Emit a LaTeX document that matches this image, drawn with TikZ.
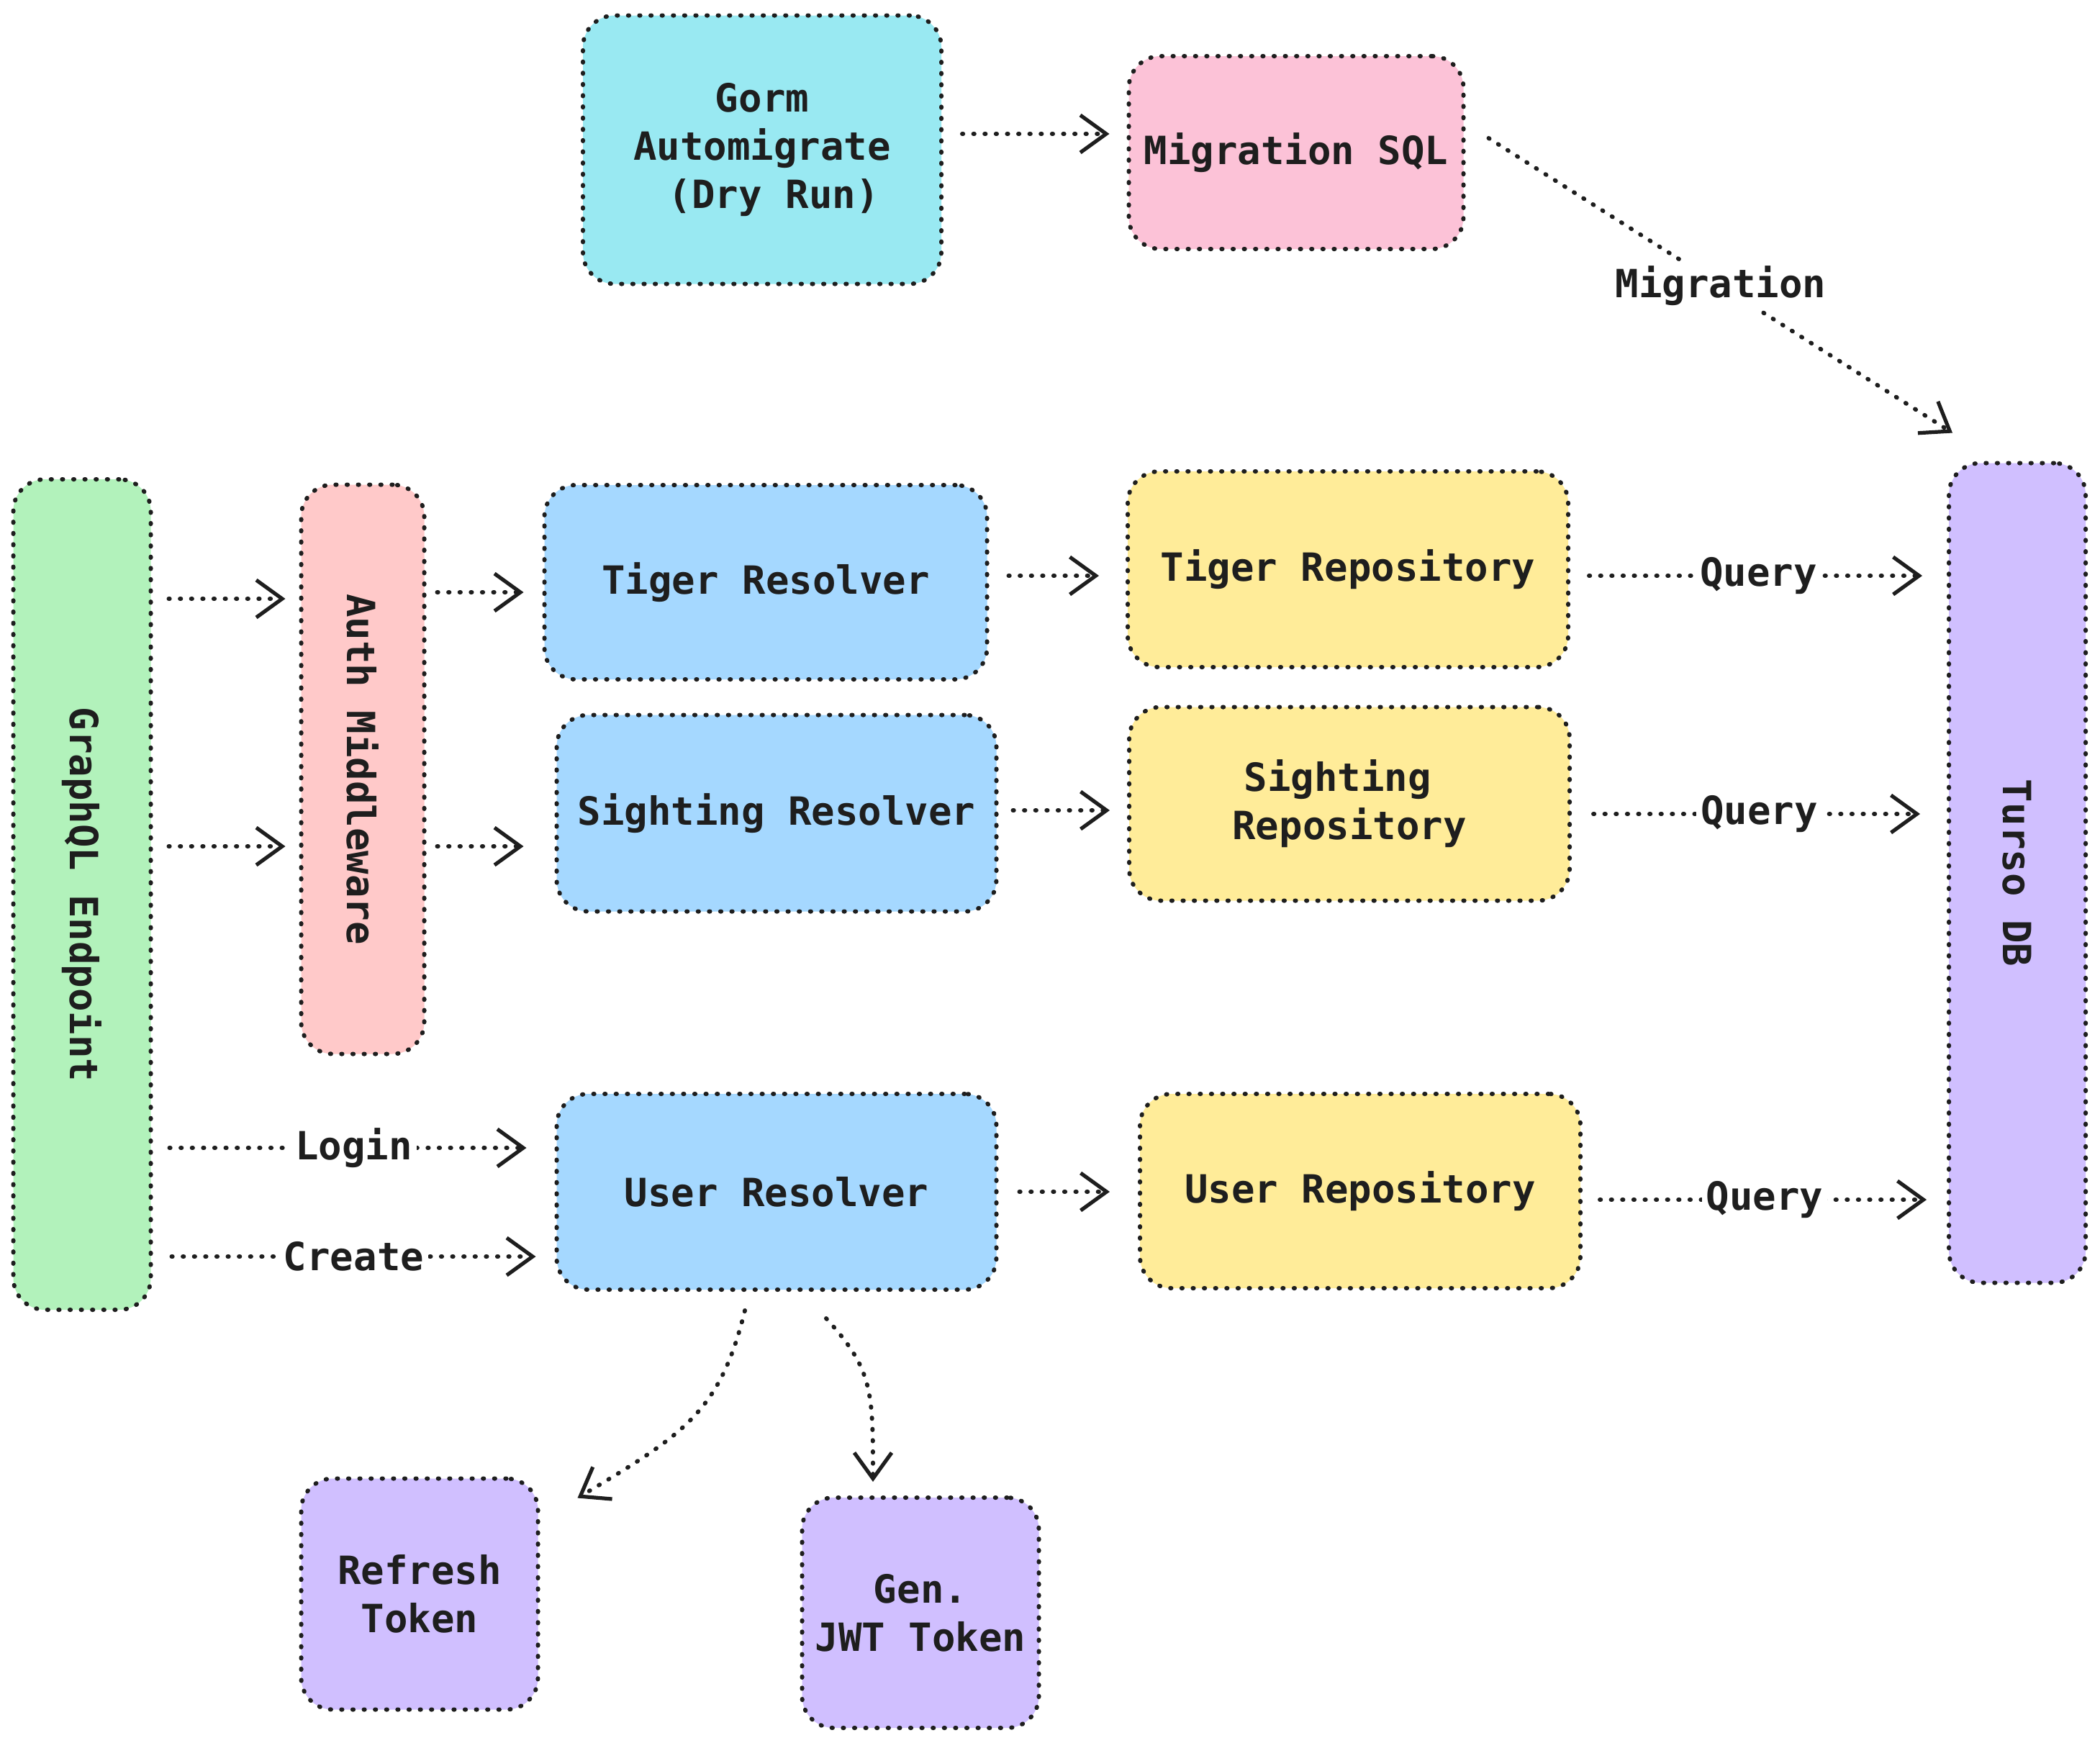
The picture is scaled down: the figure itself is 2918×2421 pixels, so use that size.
\documentclass[tikz,border=0pt]{standalone}
\usepackage{fontspec}
\usepackage{graphicx}
\newfontfamily\dmono{DejaVu Sans Mono}
\usetikzlibrary{arrows.meta,calc}
\definecolor{ink}{HTML}{1E1E1E}
\definecolor{cgorm}{HTML}{99E9F2}
\definecolor{cmig}{HTML}{FCC2D7}
\definecolor{cgql}{HTML}{B2F2BB}
\definecolor{cauth}{HTML}{FFC9C9}
\definecolor{cres}{HTML}{A5D8FF}
\definecolor{crepo}{HTML}{FFEC99}
\definecolor{cpur}{HTML}{D0BFFF}
\begin{document}
\begin{tikzpicture}[x=0.25pt,y=-0.25pt,
  txt/.style={font=\dmono\bfseries\fontsize{13.5}{16.75}\selectfont, text=ink},
  box/.style={txt, draw=ink, line width=1.5pt, dash pattern=on 0.3pt off 3.6pt, line cap=round,
    rounded corners=11pt, align=center, inner sep=0pt},
  arr/.style={draw=ink, line width=1.5pt, dash pattern=on 0.3pt off 3.6pt, line cap=round,
    -{Straight Barb[length=9pt,width=13pt,line width=1.3pt]}},
  lbl/.style={txt, fill=white, inner sep=1.5pt}]
\useasboundingbox (0,0) rectangle (2918,2421);

% nodes
\node[box, fill=cgorm, minimum width=124.5pt, minimum height=93.25pt] (gorm) at (1059,208) {Gorm\\Automigrate\\\hphantom{x}(Dry Run)};
\node[box, fill=cmig, minimum width=116.25pt, minimum height=67pt] (mig) at (1801,212) {Migration SQL};
\node[box, fill=cgql, minimum width=47.75pt, minimum height=288.5pt] (gql) at (114,1243) {\rotatebox[origin=c]{-90}{GraphQL Endpoint}};
\node[box, fill=cauth, minimum width=42.75pt, minimum height=197.75pt] (auth) at (504,1069) {\rotatebox[origin=c]{-90}{Auth Middleware}};
\node[box, fill=cres, minimum width=153.75pt, minimum height=67.5pt] (tres) at (1064,809) {Tiger Resolver};
\node[box, fill=cres, minimum width=152.75pt, minimum height=68.25pt] (sres) at (1079,1130) {Sighting Resolver};
\node[box, fill=cres, minimum width=152.75pt, minimum height=68pt] (ures) at (1079,1656) {User Resolver};
\node[box, fill=crepo, minimum width=153pt, minimum height=68pt] (trep) at (1873,791) {Tiger Repository};
\node[box, fill=crepo, minimum width=153pt, minimum height=67.25pt] (srep) at (1875,1117) {Sighting\hphantom{x}\\Repository};
\node[box, fill=crepo, minimum width=153pt, minimum height=67.5pt] (urep) at (1890,1655) {User Repository};
\node[box, fill=cpur, minimum width=47.5pt, minimum height=284.75pt] (turso) at (2803,1213) {\rotatebox[origin=c]{-90}{Turso DB}};
\node[box, fill=cpur, minimum width=82.25pt, minimum height=80.25pt] (refresh) at (583,2215) {Refresh\\Token};
\node[box, fill=cpur, minimum width=82.25pt, minimum height=80pt] (jwt) at (1279,2241) {Gen.\\JWT Token};

% connectors
\draw[arr, shorten <=6.5pt, shorten >=6pt] (gorm.east |- 0,186) -- (mig.west |- 0,186);
\draw[arr] ($(mig.east)+(32,-20)$) -- node[lbl]{Migration} ($(turso.north)+(-90,-39)$);

\draw[arr, shorten <=5.5pt, shorten >=4.75pt] (gql.east |- 0,832) -- (auth.west |- 0,832);
\draw[arr, shorten <=5.5pt, shorten >=4.75pt] (gql.east |- 0,1176) -- (auth.west |- 0,1176);
\draw[arr, shorten <=3.75pt, shorten >=6.5pt] (auth.east |- 0,823) -- (tres.west |- 0,823);
\draw[arr, shorten <=3.75pt, shorten >=10.75pt] (auth.east |- 0,1176) -- (sres.west |- 0,1176);

\draw[arr, shorten <=6.75pt, shorten >=9.25pt] (tres.east |- 0,800) -- (trep.west |- 0,800);
\draw[arr, shorten <=5pt, shorten >=6pt] (sres.east |- 0,1126) -- (srep.west |- 0,1126);
\draw[arr, shorten <=7.25pt, shorten >=9.75pt] (ures.east |- 0,1656) -- (urep.west |- 0,1656);

\draw[arr, shorten <=6.5pt, shorten >=8.5pt] (trep.east |- 0,800) -- node[lbl]{Query} (turso.west |- 0,800);
\draw[arr, shorten <=7.5pt, shorten >=9.25pt] (srep.east |- 0,1131) -- node[lbl]{Query} (turso.west |- 0,1131);
\draw[arr, shorten <=6pt, shorten >=7pt] (urep.east |- 0,1667) -- node[lbl]{Query} (turso.west |- 0,1667);

\draw[arr, shorten <=5.75pt, shorten >=9.75pt] (gql.east |- 0,1595) -- node[lbl]{Login} (ures.west |- 0,1595);
\draw[arr, shorten <=6.5pt, shorten >=6.5pt] (gql.east |- 0,1746) -- node[lbl]{Create} (ures.west |- 0,1746);

\draw[arr] ($(ures.south)+(-44,26)$) .. controls ($(ures.south)+(-79,168)$) and ($(ures.south)+(-129,198)$) .. ($(refresh.north east)+(52,30)$);
\draw[arr] ($(ures.south)+(69,37)$) .. controls ($(ures.south)+(134,108)$) and ($(ures.south)+(134,138)$) .. ($(jwt.north)+(-66,-19)$);
\end{tikzpicture}
\end{document}
